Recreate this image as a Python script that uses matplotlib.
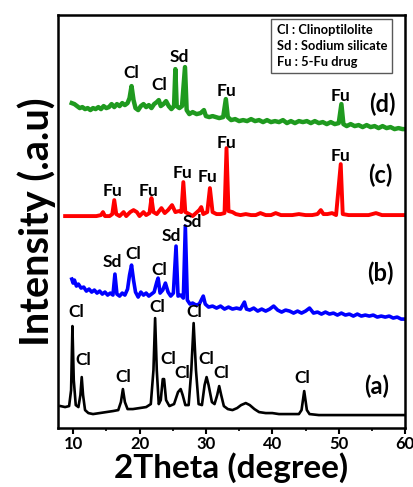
import matplotlib
matplotlib.use("Agg")
import matplotlib.pyplot as plt
import matplotlib.transforms as mtransforms
from matplotlib.ticker import MultipleLocator

plt.rcParams['font.family'] = ['Lato', 'DejaVu Sans']
plt.rcParams['font.weight'] = 'bold'

# (a) clinoptilolite
two_theta_a = [8.1, 8.8, 9.4, 9.7, 9.9, 10.1, 10.4, 10.8, 11.1, 11.3, 11.5, 11.8, 12.3, 13.0,
               14.0, 15.0, 16.0, 16.8, 17.2, 17.5, 17.8, 18.2, 19.0, 20.0, 21.0, 21.7, 22.1,
               22.35, 22.6, 22.9, 23.2, 23.5, 23.7, 24.0, 24.5, 25.2, 25.8, 26.2, 26.5, 26.9,
               27.4, 27.8, 28.15, 28.5, 28.9, 29.4, 29.8, 30.1, 30.4, 30.9, 31.3, 31.7, 32.0,
               32.3, 32.7, 33.3, 34.0, 34.7, 35.3, 36.0, 36.6, 37.3, 38.0, 39.0, 40.0, 41.0,
               42.0, 43.0, 44.0, 44.4, 44.8, 45.2, 45.6, 47.0, 50.0, 55.0, 60.0]
int_a = [22, 21, 22, 38, 102, 48, 23, 21, 33, 51, 33, 18, 15, 14,
         15, 16, 17, 18, 26, 39, 26, 19, 19, 20, 21, 24, 58,
         110, 58, 24, 28, 49, 49, 28, 22, 24, 36, 39, 33, 23,
         23, 58, 105, 58, 24, 23, 43, 51, 43, 26, 24, 33, 42,
         33, 22, 19, 18, 20, 23, 25, 23, 19, 16, 15, 15, 14,
         14, 14, 14, 18, 37, 18, 14, 13, 13, 13, 13]

# (b) clinoptilolite + sodium silicate
two_theta_b = [9.8, 10.0, 10.2, 10.5, 10.8, 11.2, 11.6, 12.0, 12.4, 12.8, 13.2, 13.6, 14.0,
               14.4, 14.8, 15.2, 15.6, 16.0, 16.3, 16.6, 17.0, 17.4, 17.8, 18.2, 18.5, 18.8,
               19.1, 19.4, 19.8, 20.2, 20.6, 21.0, 21.4, 21.8, 22.2, 22.6, 22.8, 23.1, 23.5,
               23.9, 24.3, 24.7, 25.1, 25.5, 25.8, 26.2, 26.6, 26.9, 27.2, 27.6, 28.0, 28.5,
               29.0, 29.6, 29.9, 30.4, 31.0, 31.6, 32.2, 32.8, 33.4, 34.0, 34.6, 35.2, 35.8,
               36.1, 36.6, 37.2, 37.8, 38.4, 39.0, 39.6, 40.2, 40.8, 41.4, 42.0, 42.6, 43.2,
               43.8, 44.4, 45.0, 45.6, 46.2, 46.8, 47.4, 48.0, 48.6, 49.2, 49.8, 50.4, 51.0,
               51.6, 52.2, 52.8, 53.4, 54.0, 54.6, 55.2, 55.8, 56.4, 57.0, 57.6, 58.2, 58.8,
               59.4, 60.0]
int_b = [149, 145, 148, 142, 144, 140, 141, 137, 139, 136, 138, 135, 137,
         134, 136, 133, 135, 133, 154, 134, 132, 135, 133, 139, 153, 163,
         148, 136, 131, 136, 133, 135, 132, 134, 136, 146, 150, 135, 138,
         145, 136, 132, 135, 182, 132, 133, 130, 202, 128, 124, 125, 123,
         124, 132, 124, 121, 122, 120, 122, 119, 121, 119, 120, 119, 126,
         119, 118, 120, 117, 119, 117, 119, 122, 118, 116, 118, 117, 115,
         117, 115, 117, 120, 115, 116, 114, 116, 114, 115, 113, 115, 113,
         114, 112, 114, 112, 113, 112, 113, 111, 112, 111, 112, 110, 111,
         109, 109]

# (c) 5-Fu drug
two_theta_c = [8.8, 9.5, 10.5, 11.5, 12.5, 13.5, 14.2, 14.5, 14.8, 15.5, 15.9, 16.2, 16.5,
               17.0, 17.6, 18.0, 18.6, 19.1, 19.6, 20.0, 20.6, 21.0, 21.5, 21.8, 22.1, 22.6,
               23.3, 23.8, 24.3, 24.9, 25.4, 25.9, 26.3, 26.6, 26.9, 27.5, 28.0, 28.5, 29.0,
               29.3, 29.6, 30.2, 30.6, 31.0, 31.6, 32.2, 32.8, 33.1, 33.4, 34.0, 34.5, 35.2,
               36.0, 36.8, 37.5, 38.2, 39.0, 39.8, 40.5, 41.3, 42.0, 43.0, 44.0, 45.0, 46.0,
               46.8, 47.3, 47.7, 48.3, 49.0, 49.6, 50.3, 50.6, 51.5, 52.5, 53.5, 54.5, 55.6,
               56.5, 57.5, 58.5, 59.3, 60.0]
int_c = [212, 212, 212, 212, 212, 212, 213, 216, 212, 212, 214, 228, 214,
         212, 216, 212, 216, 218, 216, 212, 216, 213, 215, 230, 216, 214,
         220, 215, 218, 223, 216, 217, 216, 246, 216, 214, 212, 215, 218,
         221, 214, 216, 240, 216, 214, 214, 215, 280, 217, 216, 214, 213,
         214, 213, 213, 215, 213, 213, 215, 213, 213, 213, 214, 213, 213,
         214, 218, 214, 214, 215, 213, 264, 214, 213, 213, 213, 213, 215,
         213, 213, 213, 213, 213]

# (d) drug-loaded composite
two_theta_d = [9.8, 10.2, 10.6, 11.0, 11.4, 11.8, 12.2, 12.6, 13.0, 13.4, 13.8, 14.2, 14.6,
               15.0, 15.4, 15.8, 16.2, 16.6, 17.0, 17.4, 17.8, 18.2, 18.5, 18.8, 19.1, 19.4,
               19.8, 20.2, 20.6, 21.0, 21.4, 21.8, 22.2, 22.6, 22.9, 23.2, 23.6, 24.0, 24.4,
               24.8, 25.2, 25.4, 25.6, 26.0, 26.4, 26.85, 27.1, 27.5, 28.0, 28.6, 29.2, 29.7,
               30.0, 30.5, 31.0, 31.5, 32.0, 32.6, 33.0, 33.3, 33.8, 34.4, 35.0, 35.6, 36.2,
               36.8, 37.4, 38.0, 38.6, 39.2, 39.8, 40.4, 41.0, 41.6, 42.2, 42.8, 43.4, 44.0,
               44.6, 45.2, 45.8, 46.4, 47.0, 47.6, 48.2, 48.8, 49.4, 50.0, 50.4, 50.7, 51.2,
               51.8, 52.4, 53.0, 53.6, 54.2, 54.8, 55.4, 56.0, 56.6, 57.2, 57.8, 58.4, 59.0,
               59.6, 60.0]
int_d = [325, 324, 322, 320, 321, 319, 320, 318, 320, 319, 321, 319, 322,
         320, 321, 324, 321, 324, 322, 325, 323, 325, 330, 342, 328, 320,
         318, 322, 324, 321, 323, 320, 324, 326, 328, 322, 324, 327, 322,
         319, 322, 359, 322, 320, 322, 361, 318, 314, 316, 314, 315, 318,
         312, 311, 312, 311, 310, 311, 329, 311, 308, 309, 307, 308, 307,
         309, 307, 308, 306, 308, 306, 307, 306, 308, 305, 307, 305, 307,
         306, 307, 305, 307, 305, 306, 304, 306, 304, 305, 324, 304, 302,
         304, 302, 303, 301, 303, 301, 302, 300, 302, 300, 301, 299, 300,
         299, 299]

# peak assignments: (text, 2theta, height)
labels_a = [("Cl", 10.4, 116), ("Cl", 22.6, 121), ("Cl", 28.2, 116), ("Cl", 11.6, 68),
            ("Cl", 17.5, 51), ("Cl", 24.3, 69), ("Cl", 26.4, 55), ("Cl", 30.0, 69),
            ("Cl", 32.3, 55), ("Cl", 44.5, 50)]
labels_b = [("Sd", 15.9, 166), ("Cl", 19.0, 174), ("Cl", 22.9, 158), ("Sd", 24.8, 192),
            ("Sd", 27.9, 206)]
labels_c = [("Fu", 15.9, 237), ("Fu", 21.4, 237), ("Fu", 26.4, 255), ("Fu", 30.2, 251),
            ("Fu", 33.1, 285), ("Fu", 50.3, 272)]
labels_d = [("Cl", 18.8, 355), ("Cl", 22.9, 343), ("Sd", 26.0, 371), ("Fu", 33.1, 337),
            ("Fu", 50.3, 332)]
sample_tags = [("(a)", 55.7, 42), ("(b)", 56.3, 155), ("(c)", 56.3, 253), ("(d)", 56.6, 324)]

xticks = [10, 20, 30, 40, 50, 60]

fig = plt.figure(figsize=(4.13, 4.87), dpi=100)
ax = fig.add_axes([0.140, 0.121, 0.841, 0.848])

ax.plot(two_theta_a, int_a, color='black', lw=1.9)
ax.plot(two_theta_b, int_b, color='#0000ff', lw=2.6)
ax.plot(two_theta_c, int_c, color='#ff0000', lw=2.8)
ax.plot(two_theta_d, int_d, color='#1f9a1f', lw=3.2)

for group in (labels_a, labels_b, labels_c, labels_d):
    for txt, x, y in group:
        ax.text(x, y, txt, ha='center', va='center', fontsize=12.5, fontweight='bold')
for txt, x, y in sample_tags:
    ax.text(x, y, txt, ha='center', va='center', fontsize=17, fontweight='bold')

ax.text(0.63, 0.872, "Cl : Clinoptilolite\nSd : Sodium silicate\nFu : 5-Fu drug",
        transform=ax.transAxes, fontsize=9.3, fontweight='bold', va='bottom', ha='left',
        linespacing=1.4,
        bbox=dict(boxstyle='square,pad=0.4', fc='white', ec='0.35', lw=1))

ax.set_xlim(7.7, 60)
ax.set_ylim(0, 413)
ax.set_xticks(xticks, [str(t) for t in xticks], fontweight='bold')
ax.xaxis.set_minor_locator(MultipleLocator(5))
ax.set_yticks([])
ax.tick_params(axis='x', which='major', length=4, width=1.5, labelsize=12, pad=2)
ax.tick_params(axis='x', which='minor', length=2.5, width=1.2)
for s in ax.spines.values():
    s.set_linewidth(1.8)

# pull the "60" label back inside the canvas
last = ax.xaxis.get_major_ticks()[-1].label1
last.set_horizontalalignment('right')
last.set_transform(last.get_transform()
                   + mtransforms.ScaledTranslation(9 / 100, 0, fig.dpi_scale_trans))

ax.set_xlabel("2Theta (degree)", fontsize=24, fontweight='bold', labelpad=0)
ax.set_ylabel("Intensity (.a.u)", fontsize=28.5, fontweight='bold', labelpad=1)

fig.savefig("out.png", dpi=100)
